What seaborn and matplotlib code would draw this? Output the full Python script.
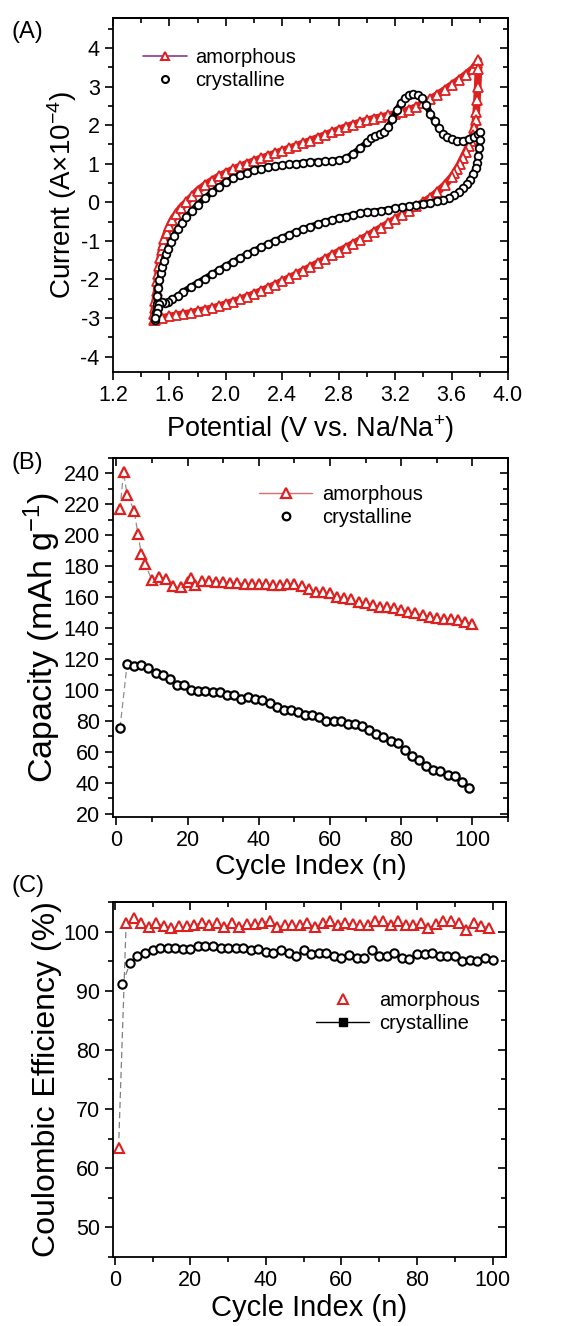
import numpy as np
import pandas as pd
import matplotlib
matplotlib.use("Agg")
import matplotlib.pyplot as plt
from matplotlib.lines import Line2D
from matplotlib.ticker import MultipleLocator, FormatStrFormatter
import seaborn as sns

# ---- (A) cyclic voltammetry ----
amo_up_v = [1.49, 1.49, 1.495, 1.50, 1.51, 1.515, 1.52, 1.53, 1.535, 1.545, 1.555, 1.565, 1.58, 1.60,
            1.62, 1.65, 1.68, 1.72, 1.76, 1.80, 1.85, 1.90, 1.95, 2.00, 2.05, 2.10, 2.15, 2.20, 2.25,
            2.30, 2.35, 2.40, 2.45, 2.50, 2.55, 2.60, 2.65, 2.70, 2.75, 2.80, 2.85, 2.90, 2.95, 3.00,
            3.05, 3.10, 3.15, 3.20, 3.25, 3.30, 3.35, 3.40, 3.45, 3.50, 3.55, 3.60, 3.65, 3.70, 3.75,
            3.78, 3.79]
amo_up_i = [-3.05, -2.9, -2.75, -2.55, -2.3, -2.05, -1.85, -1.65, -1.45, -1.25, -1.1, -0.95, -0.8, -0.62,
            -0.47, -0.3, -0.15, 0.0, 0.15, 0.3, 0.44, 0.56, 0.67, 0.76, 0.85, 0.93, 1.0, 1.07, 1.14,
            1.2, 1.27, 1.33, 1.4, 1.46, 1.53, 1.6, 1.67, 1.74, 1.81, 1.88, 1.95, 2.01, 2.07, 2.12,
            2.17, 2.21, 2.25, 2.29, 2.34, 2.40, 2.47, 2.57, 2.67, 2.79, 2.91, 3.04, 3.17, 3.31, 3.46,
            3.60, 3.68]
amo_dn_v = [3.79, 3.785, 3.78, 3.775, 3.77, 3.76, 3.75, 3.74, 3.72, 3.70, 3.68, 3.66, 3.64, 3.62,
            3.60, 3.55, 3.50, 3.45, 3.40, 3.35, 3.30, 3.25, 3.20, 3.15, 3.10, 3.05, 3.00, 2.95, 2.90,
            2.85, 2.80, 2.75, 2.70, 2.65, 2.60, 2.55, 2.50, 2.45, 2.40, 2.35, 2.30, 2.25, 2.20, 2.15,
            2.10, 2.05, 2.00, 1.95, 1.90, 1.85, 1.80, 1.75, 1.70, 1.65, 1.60, 1.55, 1.50]
amo_dn_i = [3.45, 3.0, 2.65, 2.35, 2.12, 1.92, 1.75, 1.6, 1.45, 1.3, 1.15, 1.0, 0.87, 0.75,
            0.65, 0.44, 0.27, 0.12, 0.0, -0.11, -0.22, -0.33, -0.44, -0.55, -0.66, -0.77, -0.88, -0.98, -1.08,
            -1.18, -1.28, -1.38, -1.48, -1.58, -1.68, -1.77, -1.87, -1.96, -2.05, -2.14, -2.22, -2.30, -2.38, -2.45,
            -2.52, -2.58, -2.64, -2.70, -2.75, -2.79, -2.83, -2.87, -2.90, -2.93, -2.96, -3.0, -3.05]

cry_up_v = [1.50, 1.505, 1.51, 1.515, 1.52, 1.53, 1.54, 1.55, 1.56, 1.575, 1.59, 1.61, 1.63, 1.66,
            1.69, 1.72, 1.76, 1.80, 1.85, 1.90, 1.95, 2.00, 2.05, 2.10, 2.15, 2.20, 2.25, 2.30, 2.35,
            2.40, 2.45, 2.50, 2.55, 2.60, 2.65, 2.70, 2.75, 2.80, 2.85, 2.90, 2.95, 3.00, 3.03, 3.06,
            3.09, 3.12, 3.15, 3.18, 3.21, 3.24, 3.27, 3.30, 3.33, 3.36, 3.39, 3.42, 3.45, 3.48, 3.51,
            3.54, 3.57, 3.60, 3.64, 3.68, 3.72, 3.76, 3.79, 3.80]
cry_up_i = [-3.05, -2.85, -2.65, -2.42, -2.22, -2.02, -1.84, -1.67, -1.52, -1.35, -1.2, -1.03, -0.88, -0.7,
            -0.53, -0.38, -0.22, -0.06, 0.1, 0.26, 0.4, 0.52, 0.62, 0.7, 0.77, 0.83, 0.87, 0.91, 0.94,
            0.96, 0.98, 1.0, 1.02, 1.04, 1.05, 1.06, 1.07, 1.09, 1.14, 1.25, 1.4, 1.55, 1.66, 1.73,
            1.77, 1.83, 1.96, 2.15, 2.38, 2.57, 2.7, 2.77, 2.8, 2.79, 2.7, 2.52, 2.3, 2.1, 1.92,
            1.78, 1.69, 1.64, 1.6, 1.6, 1.64, 1.7, 1.78, 1.82]
cry_dn_v = [3.80, 3.795, 3.79, 3.78, 3.77, 3.75, 3.73, 3.71, 3.68, 3.65, 3.62, 3.58, 3.54, 3.50,
            3.45, 3.40, 3.35, 3.30, 3.25, 3.20, 3.15, 3.10, 3.05, 3.00, 2.95, 2.90, 2.85, 2.80, 2.75,
            2.70, 2.65, 2.60, 2.55, 2.50, 2.45, 2.40, 2.35, 2.30, 2.25, 2.20, 2.15, 2.10, 2.05, 2.00,
            1.95, 1.90, 1.85, 1.80, 1.75, 1.70, 1.66, 1.62, 1.59, 1.57, 1.55, 1.53, 1.52, 1.51, 1.50]
cry_dn_i = [1.62, 1.4, 1.2, 1.02, 0.88, 0.72, 0.58, 0.47, 0.36, 0.26, 0.18, 0.1, 0.05, 0.02,
            -0.01, -0.04, -0.07, -0.1, -0.13, -0.16, -0.19, -0.22, -0.24, -0.26, -0.29, -0.33, -0.37, -0.41, -0.46,
            -0.51, -0.57, -0.63, -0.7, -0.77, -0.84, -0.92, -1.0, -1.08, -1.17, -1.26, -1.35, -1.45, -1.55, -1.65,
            -1.76, -1.87, -1.98, -2.09, -2.2, -2.32, -2.42, -2.52, -2.58, -2.62, -2.58, -2.65, -2.75, -2.88, -3.0]

# ---- (B) capacity vs cycle ----
amo_cap_n = [1, 2, 3, 5, 6, 7, 8] + list(range(10, 22, 2)) + [21] + list(range(22, 101, 2))
amo_cap = [217, 241, 226, 216, 201, 188, 181.5,
           171, 173, 172, 167.5, 166.5, 170, 172.5,
           168, 170.4, 170.4, 170, 170, 169.3, 169.3, 168.6, 168.6, 168.6, 168.4, 168, 168,
           168.6, 168.6, 167, 165.4, 163.7, 163.5, 162.6, 160.4, 159.4, 158.7, 157.2, 156, 155,
           154, 154, 152.9, 151.8, 150.3, 149.7, 148.6, 147.5, 146.5, 146, 145.8, 145, 144.3, 142.8]
cry_cap_n = list(range(1, 101, 2))
cry_cap = [75.5, 117, 115.3, 116, 114.3, 111, 109.5, 107.4, 103.5, 103,
           100, 99.4, 99.4, 99, 99, 97, 96.5, 94.2, 95.5, 94.2,
           93.7, 91.6, 89, 87.3, 86.9, 85.8, 83.7, 84, 82.4, 80.2,
           80.2, 79.8, 78, 78.3, 76.6, 74.5, 71.9, 69.8, 67, 65.5,
           61.5, 57.7, 55, 51.2, 48.2, 47.5, 45.4, 44.7, 40.4, 36.8]

# ---- (C) coulombic efficiency ----
amo_ce_n = list(range(1, 100, 2))
amo_ce = [63.4, 101.4, 102.3, 101.4, 100.8, 101.4, 101, 100.6, 101, 101,
          101.1, 101.5, 101.1, 101.5, 100.8, 101.4, 100.8, 101.2, 101.2, 101.5,
          101.8, 100.8, 101.1, 101.1, 101.1, 101.4, 100.8, 101.4, 101.7, 101.1,
          101.4, 101.2, 101.1, 101.1, 101.7, 101.7, 101.1, 101.7, 101.1, 101.1,
          101.4, 100.6, 101.2, 101.7, 101.8, 101.4, 100.3, 101.5, 101, 100.6]
cry_ce_n = list(range(2, 101, 2))
cry_ce = [91.1, 94.6, 95.8, 96.4, 96.9, 97.2, 97.2, 97.2, 97, 97,
          97.5, 97.5, 97.6, 97.3, 97.3, 97.3, 97.2, 96.8, 97, 96.6,
          96.4, 96.8, 96.3, 95.9, 96.9, 96.2, 96.4, 96.4, 95.8, 95.6,
          96.1, 95.6, 95.6, 96.8, 95.8, 95.8, 96.3, 95.6, 95.4, 96.2,
          96.2, 96.3, 95.8, 95.8, 95.8, 95, 95.2, 95, 95.6, 95.2]

red = '#DD2020'

sns.set_style("ticks")
plt.rcParams['font.family'] = ['Liberation Sans', 'DejaVu Sans']
plt.rcParams['mathtext.default'] = 'regular'
plt.rcParams['axes.linewidth'] = 1.3
plt.rcParams['axes.unicode_minus'] = False
for k in ['text.color', 'axes.labelcolor', 'xtick.color', 'ytick.color', 'axes.edgecolor']:
    plt.rcParams[k] = 'black'

fig = plt.figure(figsize=(5.76, 13.26), dpi=100)
axA = fig.add_axes([0.196, 0.7195, 0.686, 0.267])
axB = fig.add_axes([0.196, 0.3839, 0.686, 0.2707])
axC = fig.add_axes([0.196, 0.0520, 0.682, 0.2678])


def style_axes(ax, xmaj, xmin, ymaj, ymin):
    ax.xaxis.set_major_locator(MultipleLocator(xmaj))
    ax.xaxis.set_minor_locator(MultipleLocator(xmin))
    ax.yaxis.set_major_locator(MultipleLocator(ymaj))
    ax.yaxis.set_minor_locator(MultipleLocator(ymin))
    ax.tick_params(which='both', direction='out', labelsize=15.5, width=1.2, colors='black')
    ax.tick_params(which='major', length=6)
    ax.tick_params(which='minor', length=3.5)
    for s in ax.spines.values():
        s.set_visible(True)
        s.set_color('black')
    # top / right ticks point inward, no labels
    top = ax.secondary_xaxis('top')
    top.xaxis.set_major_locator(MultipleLocator(xmaj))
    top.xaxis.set_minor_locator(MultipleLocator(xmin))
    top.tick_params(which='both', direction='in', labeltop=False, width=1.2)
    top.tick_params(which='major', length=6)
    top.tick_params(which='minor', length=3.5)
    right = ax.secondary_yaxis('right')
    right.yaxis.set_major_locator(MultipleLocator(ymaj))
    right.yaxis.set_minor_locator(MultipleLocator(ymin))
    right.tick_params(which='both', direction='in', labelright=False, width=1.2)
    right.tick_params(which='major', length=6)
    right.tick_params(which='minor', length=3.5)


# (A)
cv = pd.concat([
    pd.DataFrame({'V': amo_up_v + amo_dn_v, 'I': amo_up_i + amo_dn_i, 'sample': 'amorphous'}),
    pd.DataFrame({'V': cry_up_v + cry_dn_v, 'I': cry_up_i + cry_dn_i, 'sample': 'crystalline'}),
])
amo = cv[cv['sample'] == 'amorphous']
cry = cv[cv['sample'] == 'crystalline']
sns.lineplot(data=amo, x='V', y='I', sort=False, estimator=None, ax=axA, color=red, lw=5.5)
sns.lineplot(data=amo, x='V', y='I', sort=False, estimator=None, ax=axA, linestyle='', marker='^',
             markersize=6.5, markerfacecolor='white', markeredgecolor=red, markeredgewidth=1.3)
sns.lineplot(data=cry, x='V', y='I', sort=False, estimator=None, ax=axA, color='black', lw=4.5)
sns.lineplot(data=cry, x='V', y='I', sort=False, estimator=None, ax=axA, linestyle='', marker='o',
             markersize=5.5, markerfacecolor='white', markeredgecolor='black', markeredgewidth=1.3)
axA.set_xlim(1.2, 4.0)
axA.set_ylim(-4.4, 4.78)
style_axes(axA, 0.4, 0.2, 1, 0.5)
axA.xaxis.set_major_formatter(FormatStrFormatter('%.1f'))
axA.set_xlabel('Potential (V vs. Na/Na$^{+}$)', fontsize=19.5, labelpad=5)
axA.set_ylabel('Current (A×10$^{-4}$)', fontsize=20, labelpad=1)
hA = [Line2D([], [], color='#8a3a8a', lw=1.2, marker='^', ms=6, mfc='white', mec=red, mew=1.5),
      Line2D([], [], color='black', lw=0, marker='o', ms=5, mfc='white', mec='black', mew=1.5)]
axA.legend(hA, ['amorphous', 'crystalline'], loc='upper left', bbox_to_anchor=(0.03, 0.965),
           frameon=False, fontsize=14.5, handlelength=2.2, handletextpad=0.4, labelspacing=0.2)

# (B)
capA = pd.DataFrame({'n': amo_cap_n, 'cap': amo_cap})
capC = pd.DataFrame({'n': cry_cap_n, 'cap': cry_cap})
sns.lineplot(data=capA, x='n', y='cap', sort=False, estimator=None, ax=axB, color='#909090', lw=0.9,
             linestyle=(0, (5, 3)))
sns.lineplot(data=capC, x='n', y='cap', sort=False, estimator=None, ax=axB, color='#909090', lw=0.9,
             linestyle=(0, (5, 3)))
sns.lineplot(data=capA, x='n', y='cap', sort=False, estimator=None, ax=axB, linestyle='', marker='^',
             markersize=7, markerfacecolor='white', markeredgecolor=red, markeredgewidth=1.6)
sns.lineplot(data=capC, x='n', y='cap', sort=False, estimator=None, ax=axB, linestyle='', marker='o',
             markersize=6, markerfacecolor='white', markeredgecolor='black', markeredgewidth=1.6)
axB.set_xlim(-1, 110)
axB.set_ylim(18, 250)
style_axes(axB, 20, 10, 20, 10)
axB.set_xticks(range(0, 101, 20))
axB.set_xlabel('Cycle Index (n)', fontsize=20.5, labelpad=2)
axB.set_ylabel('Capacity (mAh g$^{-1}$)', fontsize=24.5, labelpad=0)
hB = [Line2D([], [], color='#d47070', lw=1.0, marker='^', ms=6.5, mfc='white', mec=red, mew=1.6),
      Line2D([], [], color='black', lw=0, marker='o', ms=5.5, mfc='white', mec='black', mew=1.6)]
axB.legend(hB, ['amorphous', 'crystalline'], loc='upper right', bbox_to_anchor=(0.83, 0.975),
           frameon=False, fontsize=14.5, handlelength=2.6, handletextpad=0.5, labelspacing=0.2)

# (C)
ceA = pd.DataFrame({'n': amo_ce_n, 'ce': amo_ce})
ceC = pd.DataFrame({'n': cry_ce_n, 'ce': cry_ce})
sns.lineplot(data=ceA, x='n', y='ce', sort=False, estimator=None, ax=axC, color='#808080', lw=0.9,
             linestyle=(0, (5, 3)))
sns.lineplot(data=ceC, x='n', y='ce', sort=False, estimator=None, ax=axC, color='#808080', lw=0.9,
             linestyle=(0, (5, 3)))
sns.lineplot(data=ceA, x='n', y='ce', sort=False, estimator=None, ax=axC, linestyle='', marker='^',
             markersize=7, markerfacecolor='white', markeredgecolor=red, markeredgewidth=1.5)
sns.lineplot(data=ceC, x='n', y='ce', sort=False, estimator=None, ax=axC, linestyle='', marker='o',
             markersize=6, markerfacecolor='white', markeredgecolor='black', markeredgewidth=1.5)
axC.set_xlim(-0.5, 103.5)
axC.set_ylim(45, 105)
style_axes(axC, 20, 10, 10, 5)
axC.set_xticks(range(0, 101, 20))
axC.set_yticks(range(50, 101, 10))
axC.set_xlabel('Cycle Index (n)', fontsize=21, labelpad=2)
axC.set_ylabel('Coulombic Efficiency (%)', fontsize=23, labelpad=1)
hC = [Line2D([], [], color=red, lw=0, marker='^', ms=6.5, mfc='white', mec=red, mew=1.5),
      Line2D([], [], color='black', lw=1.0, marker='s', ms=5.5, mfc='black', mec='black')]
axC.legend(hC, ['amorphous', 'crystalline'], loc='upper right', bbox_to_anchor=(0.98, 0.8),
           frameon=False, fontsize=14.5, handlelength=2.6, handletextpad=0.5, labelspacing=0.2)

for lab, y in [('(A)', 0.976), ('(B)', 0.651), ('(C)', 0.332)]:
    fig.text(0.02, y, lab, fontsize=17, va='center', ha='left')

fig.savefig('out.png', dpi=100)
